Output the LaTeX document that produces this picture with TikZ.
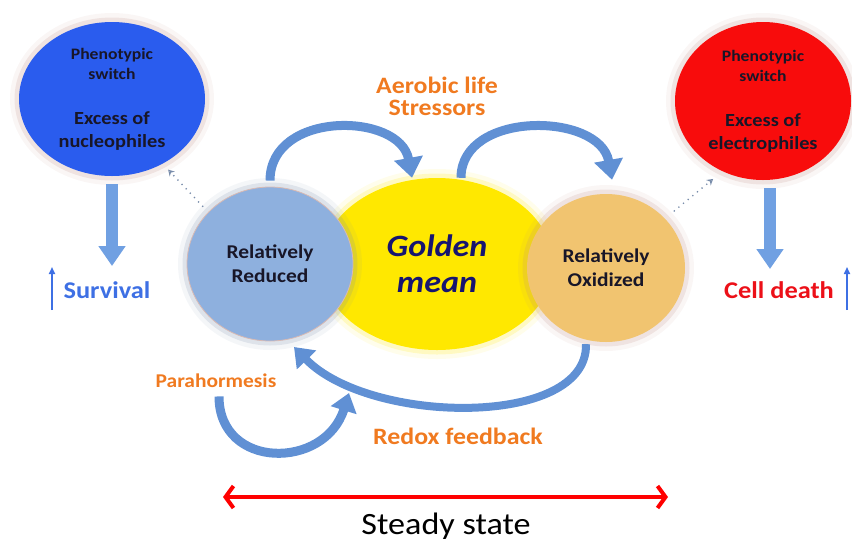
\documentclass[tikz,border=0pt]{standalone}
\usepackage{fontspec}
\setmainfont{Carlito}[FakeStretch=1.1]
\usetikzlibrary{arrows.meta,positioning,shapes.geometric}
\definecolor{nucblue}{RGB}{42,92,238}
\definecolor{elecred}{RGB}{248,12,12}
\definecolor{redcircle}{RGB}{142,176,222}
\definecolor{oxcircle}{RGB}{241,196,112}
\definecolor{goldfill}{RGB}{255,232,0}
\definecolor{arrowblue}{RGB}{96,144,212}
\definecolor{droplight}{RGB}{112,160,226}
\definecolor{labelorange}{RGB}{240,122,32}
\definecolor{survblue}{RGB}{62,112,228}
\definecolor{deathred}{RGB}{236,16,24}
\definecolor{txtdark}{RGB}{24,22,40}
\definecolor{goldtxt}{RGB}{22,20,112}
\definecolor{halobrown}{RGB}{190,140,130}
\definecolor{halogray}{RGB}{120,140,170}

\begin{document}
\begin{tikzpicture}[x=1pt, y=-1pt,
  glow/.style={preaction={draw=#1, line width=18pt, draw opacity=0.08}, preaction={draw=#1, line width=9pt, draw opacity=0.18}},
  switchnode/.style={ellipse, inner sep=0pt, align=center, text=txtdark, font=\bfseries\fontsize{16}{20}\selectfont, glow=halobrown},
  state/.style={ellipse, inner sep=0pt, align=center, text=txtdark, font=\bfseries\fontsize{19.5}{24}\selectfont},
  bendarrow/.style={draw=arrowblue, line width=9pt, -{Triangle[width=28pt, length=20pt]}},
  droparrow/.style={draw=droplight, line width=12pt, -{Triangle[width=26pt, length=20pt]}},
  dotarrow/.style={draw=halogray, line width=1.8pt, dash pattern=on 0pt off 6pt, line cap=round, -{Stealth[open, length=6pt, width=7pt]}},
  thinarrow/.style={line width=1.6pt, -{Triangle[width=6pt, length=7pt]}},
  orangelabel/.style={text=labelorange, font=\bfseries\fontsize{23.5}{22}\selectfont, align=center},
  steadyarrow/.style={draw=red, line width=4pt, {Straight Barb[length=8pt, width=22pt]}-{Straight Barb[length=8pt, width=22pt]}}
]
  \useasboundingbox (0,0) rectangle (852,542);

  % central states
  \node[state, fill=goldfill, glow=goldfill, minimum width=232pt, minimum height=172pt, font=\bfseries\itshape\fontsize{31}{36}\selectfont, text=goldtxt] (golden) at (437,264) {Golden\\mean};
  \node[state, fill=redcircle, draw=halobrown!60, line width=0.8pt, glow=halogray, minimum width=166pt, minimum height=154pt] (reduced) at (270,264) {Relatively\\Reduced};
  \node[state, fill=oxcircle, glow=halobrown, minimum width=158pt, minimum height=148pt] (oxidized) at (606,268) {Relatively\\Oxidized};

  % phenotypic switches
  \node[switchnode, fill=nucblue, minimum width=186pt, minimum height=154pt] (nucleo) at (112,99) {Phenotypic\\switch\\[25pt]\fontsize{18.5}{25}\selectfont Excess of\\[3pt]\fontsize{18.5}{25}\selectfont nucleophiles};
  \node[switchnode, fill=elecred, minimum width=176pt, minimum height=158pt] (electro) at (763,101) {Phenotypic\\switch\\[25pt]\fontsize{18.5}{25}\selectfont Excess of\\[3pt]\fontsize{18.5}{25}\selectfont electrophiles};

  \draw[dotarrow, shorten <=8pt, shorten >=8pt] (reduced.140) -- (nucleo.-52);
  \draw[dotarrow, shorten <=12pt, shorten >=12pt] (oxidized.40) -- (electro.-120);

  % outcomes
  \node[text=survblue, font=\bfseries\fontsize{24}{26}\selectfont] (survival) at (107,290) {Survival};
  \node[text=deathred, font=\bfseries\fontsize{24}{26}\selectfont] (death) at (779,290) {Cell death};
  \coordinate (survlow) at (52,310);
  \coordinate (survhigh) at (52,267);
  \coordinate (deathlow) at (847,310);
  \coordinate (deathhigh) at (847,267);
  \draw[thinarrow, survblue] (survlow) -- (survhigh);
  \draw[thinarrow, survblue] (deathlow) -- (deathhigh);

  \coordinate (survtip) at (112,266);
  \coordinate (deathtip) at (770,269);
  \draw[droparrow] ([yshift=-8pt]nucleo.south) -- (survtip);
  \draw[droparrow] ([xshift=7pt, yshift=-8pt]electro.south) -- (deathtip);

  % stressor arrows
  \node[orangelabel] (aerobic) at (437,96) {Aerobic life\\Stressors};
  \draw[bendarrow] ([yshift=6pt]reduced.north) .. controls (270,110) and (400,112) .. ([xshift=-25pt]golden.north);
  \draw[bendarrow] ([xshift=24pt]golden.north) .. controls (461,110) and (600,112) .. ([xshift=6pt, yshift=14pt]oxidized.north);

  % feedback loops
  \coordinate (fbtip) at (294,347);
  \coordinate (parahead) at (349,393);
  \node[orangelabel, font=\bfseries\fontsize{19.5}{22}\selectfont] (para) at (216,381) {Parahormesis};
  \node[orangelabel] (feedback) at (458,436) {Redox feedback};
  \draw[draw=arrowblue, line width=8pt, -{Triangle[width=26pt, length=18pt]}] ([xshift=-20pt, yshift=-2pt]oxidized.south) .. controls (588,428) and (370,425) .. (fbtip);
  \draw[draw=arrowblue, line width=9pt, -{Triangle[width=26pt, length=18pt]}] ([xshift=3pt, yshift=-5pt]para.south) .. controls (219,470) and (325,470) .. (parahead);

  % steady state
  \coordinate (ssleft) at (223,497);
  \coordinate (ssright) at (668,497);
  \draw[steadyarrow] (ssleft) -- (ssright);
  \node[font=\fontsize{31}{34}\selectfont] (steady) at (446,526) {Steady state};
\end{tikzpicture}
\end{document}
